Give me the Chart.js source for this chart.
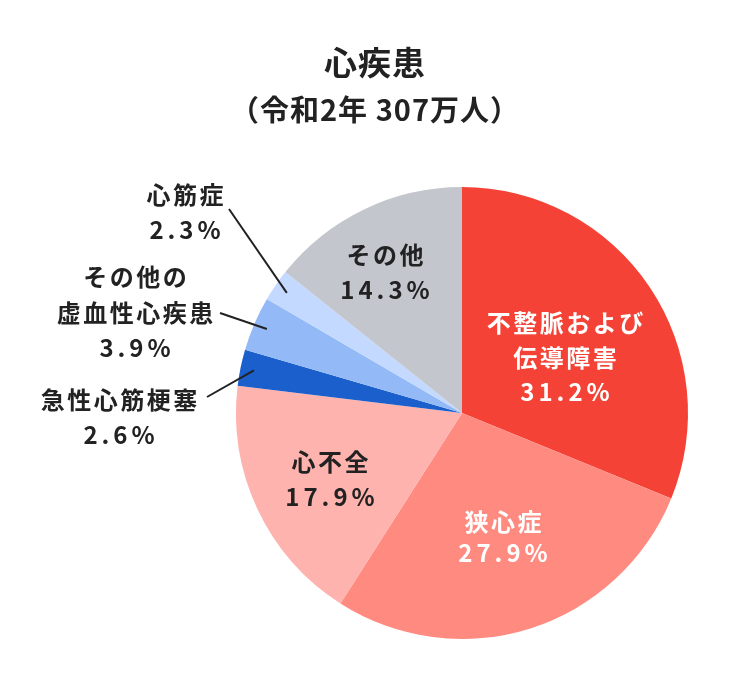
<!DOCTYPE html>
<html>
<head>
<meta charset="utf-8">
<script src="https://cdn.jsdelivr.net/npm/chart.js@4"></script>
<style>
  html, body { margin: 0; padding: 0; background: #fff; }
  #wrap { position: relative; width: 750px; height: 689px; }
</style>
</head>
<body>
<div id="wrap"><canvas id="pieChart" width="750" height="689"></canvas></div>
<script>
// data
const titleText = '心疾患';
const subtitleText = '（令和2年 307万人）';
const categories = [['不整脈および', '伝導障害'], ['狭心症'], ['心不全'], ['急性心筋梗塞'], ['その他の', '虚血性心疾患'], ['心筋症'], ['その他']];
const shares = [31.2, 27.9, 17.9, 2.6, 3.9, 2.3, 14.3];

// styling / layout
const colors = ['#F44336', '#FF8A80', '#FFB3AE', '#1A5FCC', '#93BAF7', '#C3D9FF', '#C3C6CC'];
const textColors = ['#fff', '#fff', '#222', '#222', '#222', '#222', '#222'];
// label anchor (center x, y of first line), line gap, leader line start (null = inside)
const labelPos = [
    { x: 565, y: 323, gap: 34.5, lead: null },
    { x: 503, y: 522, gap: 31, lead: null },
    { x: 330, y: 462, gap: 35, lead: null },
    { x: 119, y: 400, gap: 35, lead: [207, 397] },
    { x: 135, y: 277, gap: 35.5, lead: [220, 313] },
    { x: 185, y: 195, gap: 35, lead: [229, 209] },
    { x: 385, y: 255, gap: 35, lead: null }
];
const FONT = '"Noto Sans CJK JP", "Noto Sans", sans-serif';

const labelPlugin = {
    id: 'labelPlugin',
    afterDraw(chart) {
        const ctx = chart.ctx;
        const arcs = chart.getDatasetMeta(0).data;
        ctx.save();
        ctx.textAlign = 'center';
        ctx.textBaseline = 'middle';

        // title
        ctx.fillStyle = '#222';
        ctx.font = 'bold 33px ' + FONT;
        ctx.letterSpacing = '1px';
        ctx.fillText(titleText, 375, 62);
        ctx.font = 'bold 29px ' + FONT;
        ctx.letterSpacing = '1px';
        ctx.fillText(subtitleText, 375, 110);

        arcs.forEach((arc, i) => {
            const p = labelPos[i];
            if (p.lead) {
                const mid = (arc.startAngle + arc.endAngle) / 2;
                const r = arc.outerRadius * 0.94;
                ctx.beginPath();
                ctx.moveTo(p.lead[0], p.lead[1]);
                ctx.lineTo(arc.x + Math.cos(mid) * r, arc.y + Math.sin(mid) * r);
                ctx.strokeStyle = '#222';
                ctx.lineWidth = 2;
                ctx.stroke();
            }
            ctx.fillStyle = textColors[i];
            const lines = categories[i].concat([shares[i].toFixed(1) + '%']);
            lines.forEach((t, j) => {
                const isPct = j === lines.length - 1;
                ctx.font = 'bold 24px ' + FONT;
                ctx.letterSpacing = isPct ? '4px' : '2.5px';
                // letterSpacing adds trailing space too; shift half of it back
                const shift = isPct ? 2 : 1.25;
                ctx.fillText(t, p.x + shift, p.y + j * p.gap);
            });
        });
        ctx.restore();
    }
};

new Chart(document.getElementById('pieChart'), {
    type: 'pie',
    data: {
        labels: categories.map(c => c.join('')),
        datasets: [{
            data: shares,
            backgroundColor: colors,
            borderWidth: 0
        }]
    },
    options: {
        responsive: false,
        animation: false,
        layout: { padding: { left: 236, right: 62, top: 187, bottom: 50 } },
        plugins: {
            legend: { display: false },
            tooltip: { enabled: false }
        }
    },
    plugins: [labelPlugin]
});
</script>
</body>
</html>
